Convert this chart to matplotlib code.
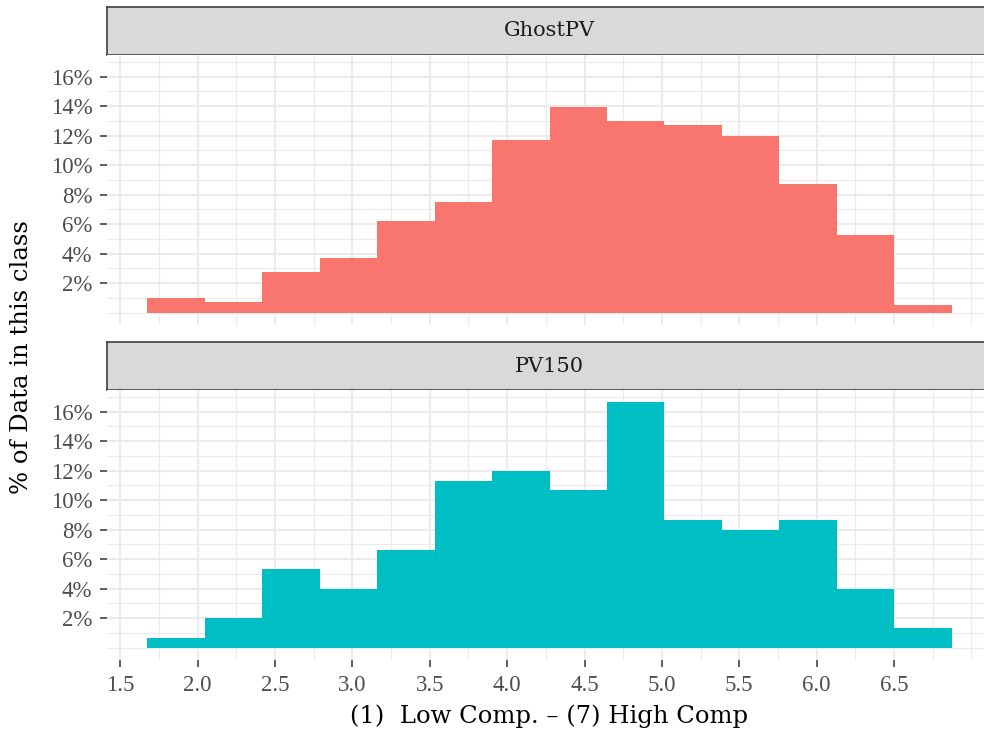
import numpy as np
import matplotlib
matplotlib.use("Agg")
import matplotlib.pyplot as plt
from matplotlib.ticker import FuncFormatter

plt.rcParams['font.family'] = ['DejaVu Serif']

# histogram bins (same bins in both facets)
bin_start = 1.674
bin_width = 0.3714
n_bins = 14

panels = ["GhostPV", "PV150"]
# % of data in each bin
ghostpv = [1.0, 0.73, 2.76, 3.71, 6.25, 7.5, 11.71, 13.94, 12.99, 12.72, 11.98, 8.73, 5.27, 0.53]
pv150 = [0.68, 2.02, 5.35, 3.99, 6.64, 11.33, 12.01, 10.67, 16.64, 8.68, 8.0, 8.68, 3.99, 1.34]
fills = ["#F8766D", "#00BFC4"]

x_ticks = [1.5, 2.0, 2.5, 3.0, 3.5, 4.0, 4.5, 5.0, 5.5, 6.0, 6.5]
x_minor = [1.75, 2.25, 2.75, 3.25, 3.75, 4.25, 4.75, 5.25, 5.75, 6.25, 6.75, 7.0]
y_ticks = [2, 4, 6, 8, 10, 12, 14, 16]
y_minor = [0, 1, 3, 5, 7, 9, 11, 13, 15, 17]

xlabel = "(1)  Low Comp. \u2013 (7) High Comp"
ylabel = "% of Data in this class"

W, H = 984, 736
fig = plt.figure(figsize=(W / 100, H / 100), dpi=100)

edges = bin_start + bin_width * np.arange(n_bins)
ymax = max(max(ghostpv), max(pv150))
pad_y = 0.05 * ymax
xlo, xhi = bin_start, bin_start + bin_width * n_bins
pad_x = 0.05 * (xhi - xlo)


def box(l, t, r, b):
    return [l / W, 1 - b / H, (r - l) / W, (b - t) / H]


layout = [(7, 55, 325), (342, 390, 660)]
left, right = 107, 992

for i, (name, vals) in enumerate(zip(panels, [ghostpv, pv150])):
    st, pt, pb = layout[i]
    # strip
    sax = fig.add_axes(box(left, st, right, pt))
    sax.set_facecolor("#D9D9D9")
    sax.set_xticks([]); sax.set_yticks([])
    for s in sax.spines.values():
        s.set_color("#333333"); s.set_linewidth(1.1)
    sax.text(0.5, 0.5, name, ha="center", va="center", fontsize=15,
             color="#1A1A1A", transform=sax.transAxes)

    ax = fig.add_axes(box(left, pt, right, pb))
    ax.set_facecolor("white")
    ax.bar(edges, vals, width=bin_width, align="edge", color=fills[i], linewidth=0, zorder=3)
    ax.set_xlim(xlo - pad_x, xhi + pad_x)
    ax.set_ylim(-pad_y, ymax + pad_y)
    ax.set_xticks(x_ticks)
    ax.set_xticks(x_minor, minor=True)
    ax.set_yticks(y_ticks)
    ax.set_yticks(y_minor, minor=True)
    ax.yaxis.set_major_formatter(FuncFormatter(lambda v, p: "%d%%" % v))
    ax.xaxis.set_major_formatter(FuncFormatter(lambda v, p: "%.1f" % v))
    ax.grid(which="major", color="#EBEBEB", linewidth=1.5, zorder=0)
    ax.grid(which="minor", color="#EBEBEB", linewidth=0.8, zorder=0)
    ax.set_axisbelow(True)
    for s in ax.spines.values():
        s.set_visible(False)
    ax.tick_params(which="minor", length=0)
    ax.tick_params(which="major", length=5, width=1.1, color="#333333",
                   labelcolor="#4D4D4D", labelsize=16.5,
                   labelfontfamily="Liberation Serif")
    ax.tick_params(axis="y", pad=5.5)
    ax.tick_params(axis="x", pad=6)
    if i == 0:
        ax.tick_params(axis="x", which="major", length=0, labelbottom=False)

fig.text(549.5 / W, 1 - 716 / H, xlabel, ha="center", va="center", fontsize=17.5, color="black")
fig.text(22 / W, 1 - 357 / H, ylabel, ha="center", va="center", rotation=90, fontsize=17.5, color="black")

fig.savefig("out.png", dpi=100)
